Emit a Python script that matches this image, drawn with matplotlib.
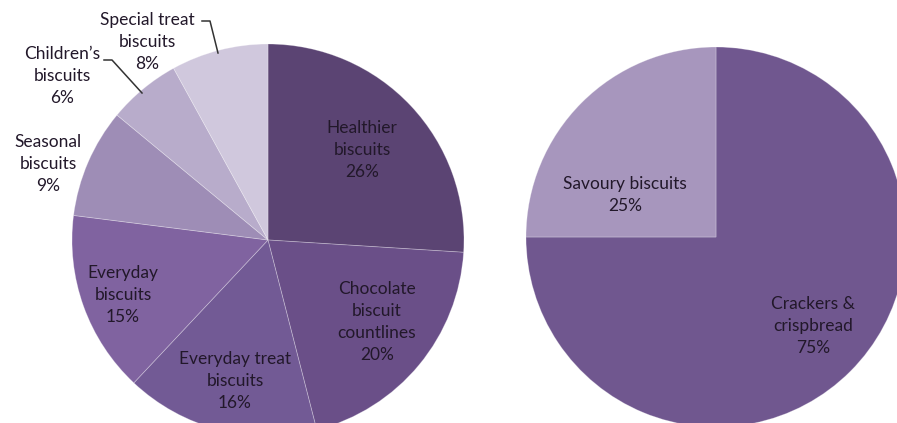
import matplotlib.pyplot as plt

# left pie: biscuit segments, clockwise from 12 o'clock
seg_names = ["Healthier\nbiscuits", "Chocolate\nbiscuit\ncountlines", "Everyday treat\nbiscuits",
             "Everyday\nbiscuits", "Seasonal\nbiscuits", "Children\u2019s\nbiscuits", "Special treat\nbiscuits"]
seg_vals = [26, 20, 16, 15, 9, 6, 8]
seg_cols = ["#5b4473", "#6a4f88", "#725a95", "#8063a0", "#9e8db6", "#b8accb", "#d0c8dd"]

# right pie
sav_names = ["Crackers &\ncrispbread", "Savoury biscuits"]
sav_vals = [75, 25]
sav_cols = ["#70578f", "#a796bd"]

W, H = 897, 423
def Y(y):
    return H - y

fig = plt.figure(figsize=(W/100, H/100), dpi=100)
ax = fig.add_axes([0, 0, 1, 1])

wp = dict(edgecolor=(1, 1, 1, 0.3), linewidth=0.6)
ax.pie(seg_vals, colors=seg_cols, startangle=90, counterclock=False,
       center=(268, Y(240)), radius=196, wedgeprops=wp, frame=True)
ax.pie(sav_vals, colors=sav_cols, startangle=90, counterclock=False,
       center=(716, Y(237)), radius=190, wedgeprops=wp, frame=True)

ax.set_xlim(0, W)
ax.set_ylim(0, H)
ax.set_aspect('equal')
ax.axis('off')

tc = "#22182a"
fp = dict(fontsize=12.5, family="Lato", color=tc, ha="center", va="top", linespacing=1.45)

# label anchor points (top of each label block)
seg_pos = [(362, 120), (377, 281), (235, 351), (123, 265), (48, 134), (62, 46), (147, 12)]
for name, v, (x, y) in zip(seg_names, seg_vals, seg_pos):
    ax.text(x, Y(y), f"{name}\n{v}%", **fp)

sav_pos = [(813, 296), (625, 176)]
for name, v, (x, y) in zip(sav_names, sav_vals, sav_pos):
    ax.text(x, Y(y), f"{name}\n{v}%", **fp)

# leader lines
ax.plot([202, 210, 218], [Y(21), Y(21), Y(53)], color="#333333", lw=1.1)
ax.plot([104, 112, 142], [Y(60), Y(60), Y(93)], color="#333333", lw=1.1)

fig.savefig("out.png", dpi=100)
